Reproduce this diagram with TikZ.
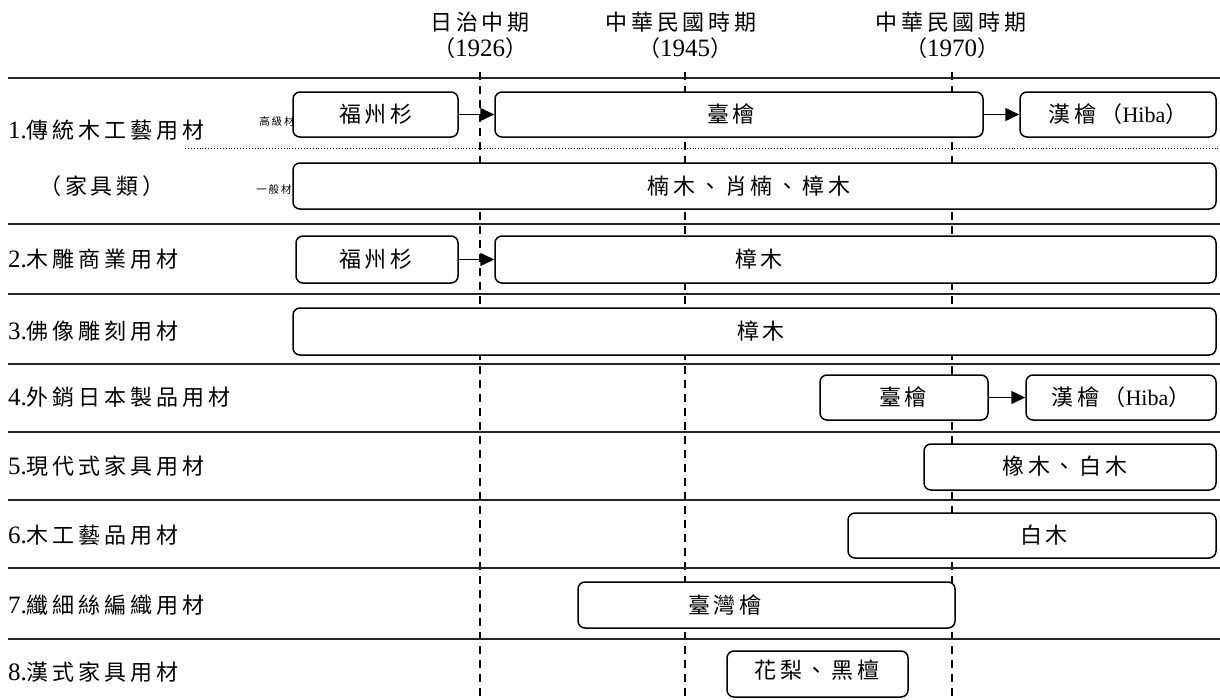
\documentclass[tikz,border=0pt]{standalone}
\usepackage{fontspec}
\setmainfont{Liberation Serif}
\newfontfamily\cjkfont[LetterSpace=18]{Noto Sans CJK TC}
\newcommand\zhtxt[1]{{\cjkfont #1}}
\newcommand\dgt[1]{{\fontsize{25}{26}\selectfont #1}}
\usetikzlibrary{arrows.meta}
\tikzset{
  bar/.style={draw, line width=1.5pt, rounded corners=7pt, fill=white, inner sep=0pt},
  lbl/.style={font=\fontsize{22}{26}\selectfont, inner sep=0pt},
  rowlbl/.style={lbl, anchor=west},
  smalllbl/.style={font=\fontsize{10.5}{12}\selectfont, inner sep=0pt},
  hline/.style={line width=2.2pt, draw=black!85},
  tline/.style={dash pattern=on 8pt off 6pt, line width=1.3pt},
  arr/.style={-{Triangle[length=14pt,width=13pt]}, line width=1.5pt},
}
\begin{document}
\begin{tikzpicture}[x=1pt,y=-1pt]
\useasboundingbox (0,0) rectangle (1220,699);
% header
\node[lbl] (h1) at (480,22) {\zhtxt{日治中期}};
\node[lbl] (h1y) at (480,48) {\zhtxt{（}\dgt{1926}\zhtxt{）}};
\node[lbl] (h2) at (681,22) {\zhtxt{中華民國時期}};
\node[lbl] (h2y) at (685,48) {\zhtxt{（}\dgt{1945}\zhtxt{）}};
\node[lbl] (h3) at (951,22) {\zhtxt{中華民國時期}};
\node[lbl] (h3y) at (952,48) {\zhtxt{（}\dgt{1970}\zhtxt{）}};
% time lines
\coordinate (t1a) at (480,72); \coordinate (t1b) at (480,699);
\coordinate (t2a) at (685,72); \coordinate (t2b) at (685,699);
\coordinate (t3a) at (952,72); \coordinate (t3b) at (952,699);
\draw[tline] (t1a) -- (t1b);
\draw[tline] (t2a) -- (t2b);
\draw[tline] (t3a) -- (t3b);
% row separators
\foreach \yy/\nm in {78/l0,224/l1,294/l2,364/l3,432/l4,500/l5,568/l6,639/l7}{
  \coordinate (\nm a) at (8,\yy); \coordinate (\nm b) at (1220,\yy);
  \draw[hline] (\nm a) -- (\nm b);
}
\coordinate (da) at (185,148); \coordinate (db) at (1220,148);
\draw[dotted, line width=0.9pt] (da) -- (db);
% row labels
\node[rowlbl] (r1) at (8,130) {\dgt{1.}\zhtxt{傳統木工藝用材}};
\node[lbl] (r1s) at (102,186) {\zhtxt{（家具類）}};
\node[smalllbl] (hi) at (277,121) {\zhtxt{高級材}};
\node[smalllbl] (lo) at (274,190) {\zhtxt{一般材}};
\node[rowlbl] (r2) at (8,259) {\dgt{2.}\zhtxt{木雕商業用材}};
\node[rowlbl] (r3) at (8,331) {\dgt{3.}\zhtxt{佛像雕刻用材}};
\node[rowlbl] (r4) at (8,397) {\dgt{4.}\zhtxt{外銷日本製品用材}};
\node[rowlbl] (r5) at (8,466) {\dgt{5.}\zhtxt{現代式家具用材}};
\node[rowlbl] (r6) at (8,535) {\dgt{6.}\zhtxt{木工藝品用材}};
\node[rowlbl] (r7) at (8,605) {\dgt{7.}\zhtxt{纖細絲編織用材}};
\node[rowlbl] (r8) at (8,672) {\dgt{8.}\zhtxt{漢式家具用材}};
% bars
\node[bar, minimum width=165pt, minimum height=45pt] (b1a) at (375.5,114.5) {};
\node[bar, minimum width=488pt, minimum height=45pt] (b1b) at (739,114.5) {};
\node[bar, minimum width=196pt, minimum height=45pt] (b1c) at (1118,114.5) {};
\node[bar, minimum width=923pt, minimum height=46pt] (b1d) at (754.5,186) {};
\node[bar, minimum width=162pt, minimum height=47pt] (b2a) at (377,259.5) {};
\node[bar, minimum width=721pt, minimum height=47pt] (b2b) at (855.5,259.5) {};
\node[bar, minimum width=923pt, minimum height=47pt] (b3) at (754.5,331.5) {};
\node[bar, minimum width=168pt, minimum height=45pt] (b4a) at (904,397.5) {};
\node[bar, minimum width=190pt, minimum height=45pt] (b4b) at (1121,397.5) {};
\node[bar, minimum width=292pt, minimum height=46pt] (b5) at (1070,467) {};
\node[bar, minimum width=368pt, minimum height=45pt] (b6) at (1032,535.5) {};
\node[bar, minimum width=377pt, minimum height=46pt] (b7) at (766.5,605) {};
\node[bar, minimum width=181pt, minimum height=46pt] (b8) at (817.5,674) {};
% bar texts
\node[lbl] (x1a) at (376,114) {\zhtxt{福州杉}};
\node[lbl] (x1b) at (731,114) {\zhtxt{臺檜}};
\node[lbl] (x1c) at (1118,114) {\zhtxt{漢檜（}Hiba\zhtxt{）}};
\node[lbl] (x1d) at (749,186) {\zhtxt{楠木、肖楠、樟木}};
\node[lbl] (x2a) at (376,259) {\zhtxt{福州杉}};
\node[lbl] (x2b) at (759,259) {\zhtxt{樟木}};
\node[lbl] (x3) at (761,331) {\zhtxt{樟木}};
\node[lbl] (x4a) at (903,397) {\zhtxt{臺檜}};
\node[lbl] (x4b) at (1121,397) {\zhtxt{漢檜（}Hiba\zhtxt{）}};
\node[lbl] (x5) at (1065,466) {\zhtxt{橡木、白木}};
\node[lbl] (x6) at (1044,535) {\zhtxt{白木}};
\node[lbl] (x7) at (725,605) {\zhtxt{臺灣檜}};
\node[lbl] (x8) at (817,670) {\zhtxt{花梨、黑檀}};
% arrows
\draw[arr] (b1a.east) -- (b1b.west);
\draw[arr] (b1b.east) -- (b1c.west);
\draw[arr] (b2a.east) -- (b2b.west);
\draw[arr] (b4a.east) -- (b4b.west);
\end{tikzpicture}
\end{document}
